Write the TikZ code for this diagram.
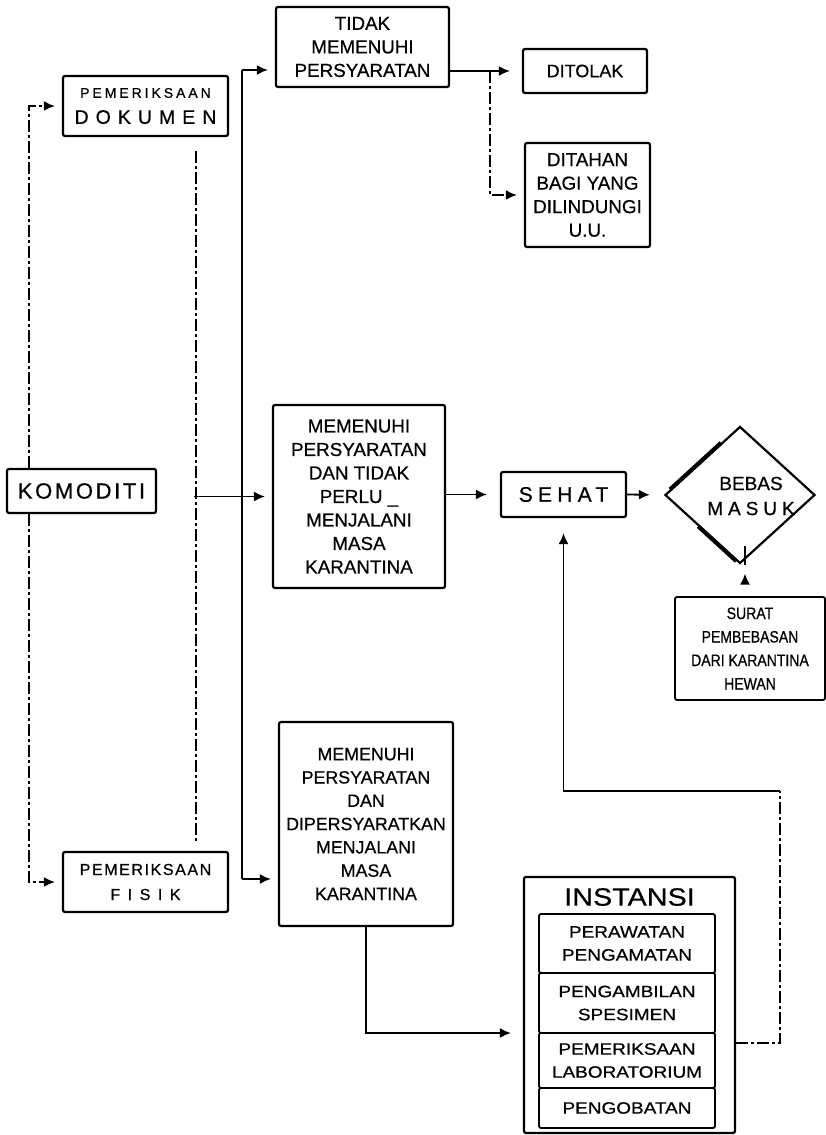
\documentclass[tikz,border=0pt]{standalone}
\usepackage{fontspec}
\setmainfont{Liberation Sans}[FakeBold=0.6]
\newfontfamily\widefont{Liberation Sans}[FakeStretch=1.15,FakeBold=0.6]
\newfontfamily\narrowfont{Liberation Sans}[FakeStretch=0.85,FakeBold=0.6]
\usetikzlibrary{shapes.geometric,arrows.meta,calc}
\newcommand{\lsp}[2]{{\addfontfeatures{LetterSpace=#1}#2}}
\begin{document}
\begin{tikzpicture}[x=1pt,y=-1pt,
  box/.style={draw,line width=2.2pt,rounded corners=2pt,inner sep=0pt,align=center,font=\fontsize{18.8}{23.5}\selectfont},
  inner/.style={box,line width=1.8pt,font=\widefont\fontsize{16.5}{23}\selectfont},
  conn/.style={line width=1.8pt},
  arr/.style={conn,-{Latex[length=11pt,width=10pt]},shorten >=7pt},
  dd/.style={dash pattern=on 12pt off 3pt on 3pt off 3pt}]
\useasboundingbox[fill=white] (0,0) rectangle (826,1135);

% boxes
\node[box,minimum width=165pt,minimum height=60pt,font=\fontsize{14}{26}\selectfont] (dok) at (145.5,106)
  {\lsp{21}{PEMERIKSAAN}\\{\fontsize{19.5}{22}\selectfont\lsp{36}{DOKUMEN}}};
\node[box,minimum width=165pt,minimum height=60pt,font=\fontsize{16}{25}\selectfont] (fis) at (145.5,882)
  {\lsp{10}{PEMERIKSAAN}\\\lsp{47}{FISIK}};
\node[box,minimum width=149pt,minimum height=44pt,font=\fontsize{22}{26}\selectfont] (kom) at (81.5,491)
  {\lsp{12}{KOMODITI}};
\node[box,minimum width=173pt,minimum height=80pt] (tidak) at (362.5,47)
  {TIDAK\\MEMENUHI\\PERSYARATAN};
\node[box,minimum width=124pt,minimum height=44pt,font=\fontsize{18}{22}\selectfont] (ditolak) at (585,71) {DITOLAK};
\node[box,minimum width=125pt,minimum height=104pt] (ditahan) at (587.5,195)
  {DITAHAN\\BAGI YANG\\DILINDUNGI\\U.U.};
\node[box,minimum width=172pt,minimum height=183pt] (mem1) at (359,496.5)
  {MEMENUHI\\PERSYARATAN\\DAN TIDAK\\PERLU \_\\MENJALANI\\MASA\\KARANTINA};
\node[box,minimum width=125pt,minimum height=45pt,font=\fontsize{21}{24}\selectfont] (sehat) at (563.5,494.5)
  {\lsp{25}{SEHAT}};
\node[draw,diamond,line width=2.2pt,minimum width=150pt,minimum height=137pt,inner sep=0pt] (bebas) at (740,495) {};
\draw[line width=4pt] ($(bebas.west)!0.08!(bebas.north)$) -- ($(bebas.west)!0.75!(bebas.north)$);
\draw[line width=4pt] ($(bebas.west)!0.45!(bebas.south)$) -- ($(bebas.west)!0.95!(bebas.south)$);
\node[align=center,inner sep=0pt,font=\fontsize{19}{25}\selectfont] (bebastext) at (751,496)
  {BEBAS\\\lsp{26}{MASUK}};
\node[box,line width=1.8pt,minimum width=150pt,minimum height=103pt,font=\narrowfont\fontsize{16.5}{23.5}\selectfont] (surat) at (750,648.5)
  {SURAT\\PEMBEBASAN\\DARI KARANTINA\\HEWAN};
\node[box,minimum width=174pt,minimum height=204pt,font=\fontsize{17.8}{23.3}\selectfont] (dip) at (366,824)
  {MEMENUHI\\PERSYARATAN\\DAN\\DIPERSYARATKAN\\MENJALANI\\MASA\\KARANTINA};
\node[box,minimum width=211pt,minimum height=256pt] (inst) at (629.5,1005) {};
\node[inner sep=0pt,font=\widefont\fontsize{25}{28}\selectfont] (insttitle) at (629.5,897) {INSTANSI};
\node[inner,minimum width=176pt,minimum height=59pt] (i1) at (627,943.5) {PERAWATAN\\PENGAMATAN};
\node[inner,minimum width=176pt,minimum height=60pt] (i2) at (627,1003) {PENGAMBILAN\\SPESIMEN};
\node[inner,minimum width=176pt,minimum height=55pt] (i3) at (627,1060.5) {PEMERIKSAAN\\LABORATORIUM};
\node[inner,minimum width=176pt,minimum height=40pt] (i4) at (627,1108) {PENGOBATAN};

% connectors
\draw[arr,dd] ($(kom.north west)+(23,0)$) |- (dok.west);
\draw[arr,dd] ($(kom.south west)+(23,0)$) |- (fis.west);
\draw[conn,dd] ($(dok.south east)+(-33,14)$) coordinate (d1) -- ($(fis.north east)+(-33,-7)$) coordinate (d2);
\coordinate (j1) at ($(d1 |- mem1.west)+(-2,0)$);
\draw[arr] (j1) -- (mem1.west);
\coordinate (t242) at (242,70);
\coordinate (b242) at (242,879);
\draw[conn] (t242) -- (b242);
\draw[arr] (t242) -- (t242 -| tidak.west);
\draw[arr] (b242) -- (b242 -| dip.west);
\draw[arr,shorten >=12pt] (tidak.east |- ditolak.west) -- (ditolak.west);
\coordinate (br) at (490,71);
\draw[arr,dd] (br) |- (ditahan.west);
\draw[arr,shorten >=13pt] (mem1.east |- sehat.west) -- (sehat.west);
\draw[arr,shorten >=14pt] (sehat.east) -- (bebas.west);
\draw[arr,shorten >=9pt] ($(bebas.south)+(5,0)$) -- ($(bebas.south)+(5,0)$ |- surat.north);
\draw[arr,shorten >=12pt] (dip.south) |- ($(inst.west)+(0,28)$);
\draw[conn,dd] ($(inst.east)+(0,38)$) -- ++(44,0) -- ++(0,-252) coordinate (rc);
\draw[arr,shorten >=15pt] (rc) -| (sehat.south);
\end{tikzpicture}
\end{document}
